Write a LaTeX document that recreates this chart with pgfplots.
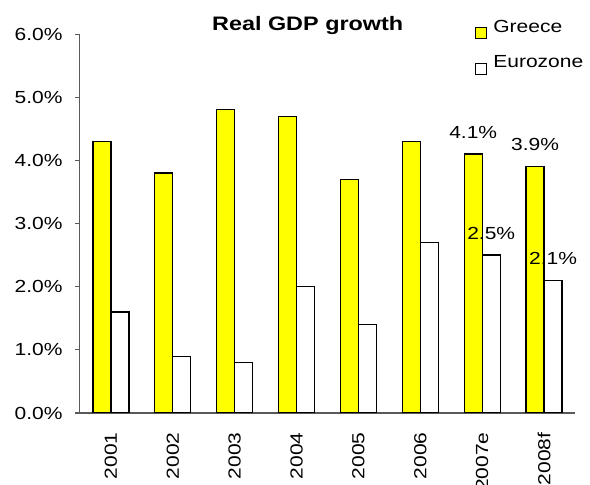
\documentclass[border=0pt]{standalone}
\usepackage{fontspec}
\setmainfont{Liberation Sans}[FakeStretch=1.2]
\usepackage{pgfplots}
\pgfplotsset{compat=1.18}
\definecolor{gyellow}{HTML}{FFFF00}
\pgfplotstableread{
x g e
0 4.3 1.6
1 3.8 0.9
2 4.8 0.8
3 4.7 2.0
4 3.7 1.4
5 4.3 2.7
6 4.1 2.5
7 3.9 2.1
}\datatable
\begin{document}
\begin{tikzpicture}
\useasboundingbox (-80pt,-72pt) rectangle (510pt,413pt);
\begin{axis}[
  at={(0pt,0pt)}, anchor=south west,
  scale only axis, width=495pt, height=379pt,
  xmin=-0.5, xmax=7.5, ymin=0, ymax=6,
  axis x line*=bottom, axis y line*=left,
  axis line style={black!65, line width=1pt, -},
  ytick={0,1,...,6},
  yticklabel={\pgfmathprintnumber[assume math mode=true,fixed,fixed zerofill,precision=1]{\tick}\%},
  xtick={0,...,7},
  xticklabels={2001,2002,2003,2004,2005,2006,2007e,2008f},
  xtick style={draw=none},
  ytick style={black!65, line width=1pt},
  tick align=outside, major tick length=5pt,
  tick label style={font=\fontsize{17.5}{21}\selectfont},
  yticklabel style={xshift=-9pt},
  xticklabel style={yshift=-11pt, rotate=90, anchor=east},
  ybar, bar width=18pt,
  title={Real GDP growth},
  title style={at={(0.46,1)}, anchor=base, yshift=-2pt, font=\fontsize{19.5}{23}\selectfont\bfseries},
  legend style={at={(0.792,1.048)}, anchor=north west, draw=none, fill=none,
    font=\fontsize{17.5}{21}\selectfont, row sep=15pt, legend cell align=left},
  legend image code/.code={\draw[#1, line width=1pt] (0pt,-11.5pt) rectangle (11pt,-0.5pt); \path (15pt,0pt);},
  every node near coord/.append style={text=black, yshift=12pt, font=\fontsize{17.5}{21}\selectfont},
]
\addplot[fill=gyellow, draw=black, line width=1.2pt, bar shift=-9pt] table[x=x,y=g] {\datatable};
\addlegendentry{Greece}
\addplot[fill=white, draw=black, line width=1.2pt, bar shift=9pt] table[x=x,y=e] {\datatable};
\addlegendentry{Eurozone}
\addplot[draw=none, fill=none, bar shift=-9pt, forget plot,
  nodes near coords={\pgfmathprintnumber[assume math mode=true,fixed,fixed zerofill,precision=1]{\pgfplotspointmeta}\%}]
  coordinates {(6,4.1) (7,3.9)};
\addplot[draw=none, fill=none, bar shift=9pt, forget plot,
  nodes near coords={\pgfmathprintnumber[assume math mode=true,fixed,fixed zerofill,precision=1]{\pgfplotspointmeta}\%}]
  coordinates {(6,2.5) (7,2.1)};
\end{axis}
\end{tikzpicture}
\end{document}
